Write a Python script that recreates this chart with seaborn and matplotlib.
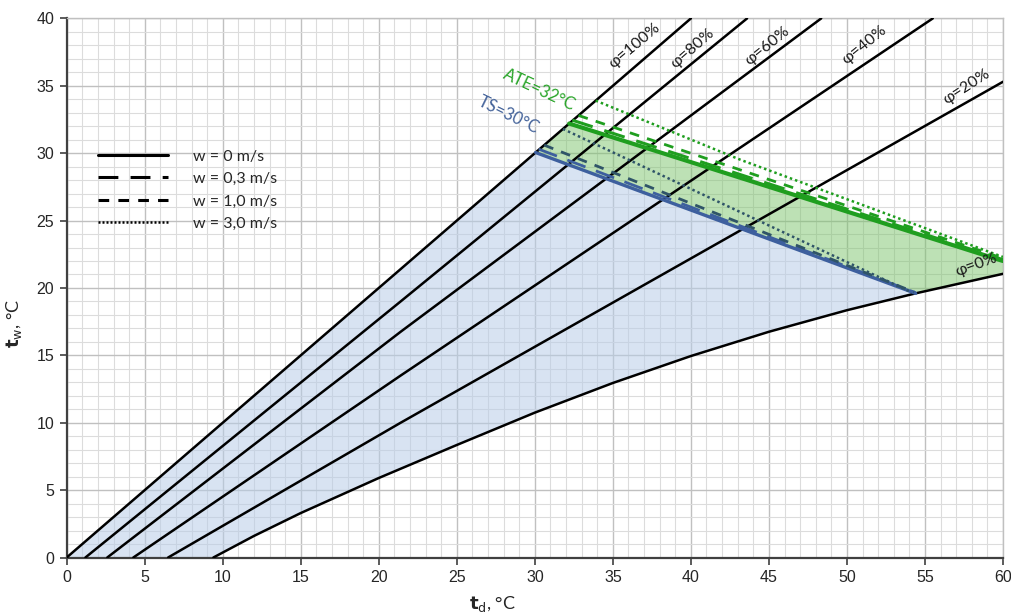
import seaborn as sns
import matplotlib.pyplot as plt
from matplotlib.lines import Line2D
import numpy as np

# relative humidity lines (t_d, t_w)
phi100_x = [0, 40]
phi100_y = [0, 40]
phi80_x = [1.2, 21.4, 43.6]
phi80_y = [0, 19.0, 40]
phi60_x = [2.6, 21.4, 48.35]
phi60_y = [0, 16.75, 40]
phi40_x = [4.27, 21.4, 55.5]
phi40_y = [0, 13.5, 40]
phi20_x = [6.5, 21.4, 60]
phi20_y = [0, 10.0, 35.3]
phi0_x = [9.4, 12, 15, 20, 25, 30, 35, 40, 45, 50, 54.4, 60]
phi0_y = [0, 1.6, 3.3, 5.9, 8.35, 10.75, 12.95, 14.95, 16.75, 18.35, 19.6, 21.05]

# TS = 30 °C lines for the wind speeds
ts_w0_x = [30.05, 54.4]
ts_w0_y = [30.05, 19.6]
ts_w03_x = [30.25, 54.4]
ts_w03_y = [30.3, 19.65]
ts_w1_x = [30.6, 54.3]
ts_w1_y = [30.6, 19.7]
ts_w3_x = [31.8, 54.0]
ts_w3_y = [31.8, 19.75]

# ATE = 32 °C lines for the wind speeds
ate_w0_x = [32.2, 60]
ate_w0_y = [32.2, 22.0]
ate_w03_x = [32.4, 60]
ate_w03_y = [32.45, 22.1]
ate_w1_x = [32.8, 60]
ate_w1_y = [32.8, 22.2]
ate_w3_x = [33.9, 43.2, 60]
ate_w3_y = [33.9, 29.5, 22.3]

phi_labels = ['φ=100%', 'φ=80%', 'φ=60%', 'φ=40%', 'φ=20%', 'φ=0%']
phi_label_x = [36.4, 40.1, 44.9, 51.1, 57.7, 58.3]
phi_label_y = [38.0, 37.8, 37.95, 38.0, 34.9, 21.7]
phi_label_rot = [40, 41, 39, 39, 33, 20]

legend_labels = ['w = 0 m/s', 'w = 0,3 m/s', 'w = 1,0 m/s', 'w = 3,0 m/s']

sns.set_theme(style='white')
plt.rcParams['font.family'] = ['Liberation Sans', 'DejaVu Sans']

fig = plt.figure(figsize=(10.12, 6.14), dpi=100)
ax = fig.add_axes([0.0659, 0.092, 0.9252, 0.878])

ls_long = (0, (7, 4))
ls_mid = (0, (3.5, 3))
ls_dot = (0, (1, 1.2))

# filled areas
blue_x = [0, 30.05] + ts_w0_x[1:] + phi0_x[::-1][1:]
blue_y = [0, 30.05] + ts_w0_y[1:] + phi0_y[::-1][1:]
ax.fill(blue_x, blue_y, color='#b8cde8', alpha=0.55, lw=0, zorder=1)

green_x = ts_w0_x + [phi0_x[-1]] + ate_w0_x[::-1]
green_y = ts_w0_y + [phi0_y[-1]] + ate_w0_y[::-1]
ax.fill(green_x, green_y, color='#7cc46c', alpha=0.5, lw=0, zorder=1)

# phi lines
for xs, ys in [(phi100_x, phi100_y), (phi80_x, phi80_y), (phi60_x, phi60_y),
               (phi40_x, phi40_y), (phi20_x, phi20_y), (phi0_x, phi0_y)]:
    sns.lineplot(x=xs, y=ys, ax=ax, color='black', lw=1.8, sort=False,
                 estimator=None, zorder=3)

# TS lines
blue = '#3d5f9e'
dark = '#2f5468'
sns.lineplot(x=ts_w0_x, y=ts_w0_y, ax=ax, color=blue, lw=2.4, zorder=4)
sns.lineplot(x=ts_w03_x, y=ts_w03_y, ax=ax, color=blue, lw=2.0, ls=ls_long, zorder=4)
sns.lineplot(x=ts_w1_x, y=ts_w1_y, ax=ax, color=dark, lw=2.0, ls=ls_mid, zorder=4)
sns.lineplot(x=ts_w3_x, y=ts_w3_y, ax=ax, color=dark, lw=1.8, ls=ls_dot, zorder=4)

# ATE lines
green = '#1f9e1f'
sns.lineplot(x=ate_w0_x, y=ate_w0_y, ax=ax, color=green, lw=3.0, zorder=4)
sns.lineplot(x=ate_w03_x, y=ate_w03_y, ax=ax, color=green, lw=2.2, ls=ls_long, zorder=4)
sns.lineplot(x=ate_w1_x, y=ate_w1_y, ax=ax, color=green, lw=2.0, ls=ls_mid, zorder=4)
sns.lineplot(x=ate_w3_x, y=ate_w3_y, ax=ax, color=green, lw=1.8, ls=ls_dot, zorder=4)

# labels
for lab, lx, ly, rot in zip(phi_labels, phi_label_x, phi_label_y, phi_label_rot):
    ax.text(lx, ly, lab, rotation=rot, ha='center', va='center', fontsize=11.5,
            family=['Lato', 'DejaVu Sans'], color='#1a1a1a', zorder=5)
ax.text(30.3, 34.7, 'ATE=32°C', rotation=-25, ha='center', va='center',
        fontsize=12, family=['Lato', 'DejaVu Sans'], color='#2aa52a', zorder=5)
ax.text(28.3, 32.85, 'TS=30°C', rotation=-26, ha='center', va='center',
        fontsize=12, family=['Lato', 'DejaVu Sans'], color='#44639a', zorder=5)

# legend
handles = [Line2D([], [], color='black', lw=2.2),
           Line2D([], [], color='black', lw=2.2, ls=(0, (6.5, 4))),
           Line2D([], [], color='black', lw=2.2, ls=(0, (3.5, 3))),
           Line2D([], [], color='black', lw=1.8, ls=(0, (0.8, 0.8)))]
leg = ax.legend(handles, legend_labels, loc='upper left', bbox_to_anchor=(0.033, 0.757),
                frameon=False, handlelength=4.4, handletextpad=1.6, labelspacing=0.52,
                borderpad=0, borderaxespad=0, prop={'family': 'Lato', 'size': 11.5})

# axes, grid
ax.set_xlim(0, 60)
ax.set_ylim(0, 40)
ax.set_xticks(np.arange(0, 61, 5))
ax.set_yticks(np.arange(0, 41, 5))
ax.set_xticks(np.arange(0, 61, 1), minor=True)
ax.set_yticks(np.arange(0, 41, 1), minor=True)
ax.grid(which='minor', color='#dcdcdc', lw=0.8, zorder=0)
ax.grid(which='major', color='#c0c0c0', lw=1.0, zorder=0)
ax.set_axisbelow(True)
ax.tick_params(which='major', direction='out', length=5, width=1.2, color='#404040',
               labelsize=11.5, labelcolor='#262626', pad=4, left=True, bottom=True)
ax.tick_params(which='minor', length=0)
for side in ['left', 'bottom']:
    ax.spines[side].set_color('#404040')
    ax.spines[side].set_linewidth(1.6)
for side in ['top', 'right']:
    ax.spines[side].set_color('#c0c0c0')
    ax.spines[side].set_linewidth(1.0)

ax.set_xlabel(r'$\mathbf{t}_\mathrm{d}$, °C', fontsize=13, family=['Lato', 'DejaVu Sans'],
              color='#262626')
ax.set_ylabel(r'$\mathbf{t}_\mathrm{w}$, °C', fontsize=13, family=['Lato', 'DejaVu Sans'],
              color='#262626')
ax.xaxis.set_label_coords(0.455, -0.068)
ax.yaxis.set_label_coords(-0.046, 0.435)

fig.savefig('out.png', dpi=100)
